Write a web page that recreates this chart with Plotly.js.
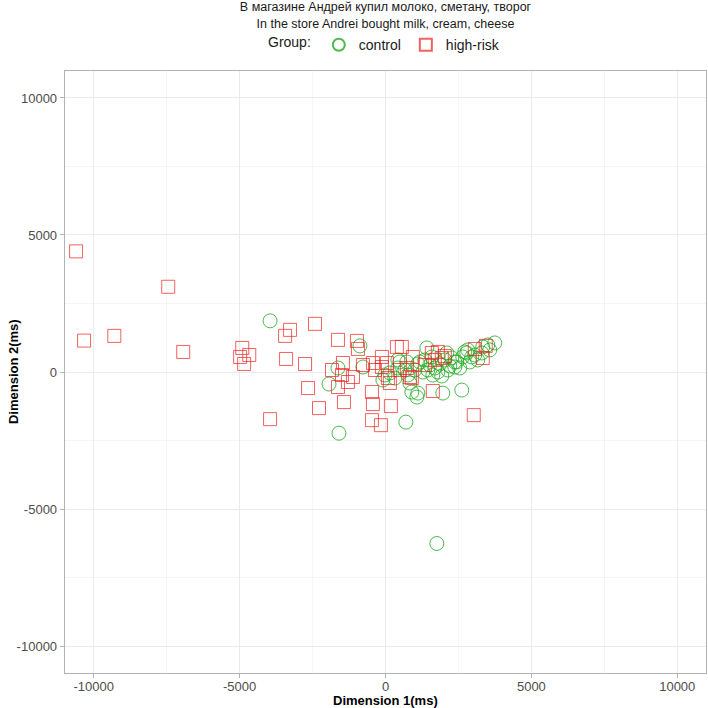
<!DOCTYPE html>
<html>
<head>
<meta charset="utf-8">
<script src="https://cdn.plot.ly/plotly-3.0.1.min.js"></script>
<style>html,body{margin:0;padding:0;background:#fff;}#chart{width:708px;height:708px;}</style>
</head>
<body>
<div id="chart"></div>
<script>
// high-risk group (red squares)
const highRiskX = [-10605,-10331,-9294,-7447,-6933,-4910,-4670,-4982,-4845,-3442,-3271,-2416,-3408,-2758,-2655,-2279,-3956,
  -1629,-979,-944,390,-123,48,-1834,-1458,-1492,-1287,-773,-431,-363,-1116,-1629,-465,-1424,-431,185,-465,-157,
  -123,82,150,561,938,732,835,1690,1930,1793,3059,3436,3333,1622,3025,493,903,1348,2033,1588];
const highRiskY = [4403,1146,1318,3111,732,878,622,549,293,1318,1537,1757,476,293,-586,-1318,-1720,
  1171,1135,842,915,549,329,73,329,-110,-366,256,329,73,-183,-549,-732,-1098,-1171,-1244,-1757,-1940,
  183,-220,-403,915,549,146,-183,439,512,732,842,952,512,-695,-1574,73,-220,256,585,695];
// control group (green circles)
const controlX = [-3956,-876,-1629,-1937,-1595,-773,493,732,-20,-89,150,767,835,698,1759,1417,2101,2717,3299,3504,3744,3333,
  2649,2957,2443,2546,3162,903,1109,1075,1964,2614,1177,1348,1519,1690,1862,2033,2204,2375,1451,1793,2136,2272,1588,
  1006,1109,1280,1622,1930,2888,2820,3059,3573,664,424,322,2785,2375,424];
const controlY = [1867,952,146,-439,-2233,183,366,366,-110,-293,-37,-110,-403,-1830,-6259,878,695,732,695,988,1061,915,
  549,549,366,146,439,-732,-769,-915,-769,-659,366,439,256,146,293,439,220,366,73,0,73,512,549,
  73,293,0,-110,-146,366,805,622,805,73,146,-220,695,183,439];
const groupNames = ["control", "high-risk"];
const tickVals = [-10000, -5000, 0, 5000, 10000];
const tickText = ["-10000", "-5000", "0", "5000", "10000"];

const FONT = "Liberation Sans, Arial, Helvetica, sans-serif";

const traces = [
  {x: controlX, y: controlY, name: groupNames[0], type: "scatter", mode: "markers",
   marker: {symbol: "circle-open", size: 14, color: "rgba(30,170,30,0.8)", line: {width: 1}}},
  {x: highRiskX, y: highRiskY, name: groupNames[1], type: "scatter", mode: "markers",
   marker: {symbol: "square-open", size: 13, color: "rgba(240,30,30,0.7)", line: {width: 1}}}
];

const axisCommon = {
  range: [-10985, 10985], tickvals: tickVals, ticktext: tickText,
  showgrid: true, gridcolor: "#ebebeb", gridwidth: 1,
  minor: {dtick: 2500, showgrid: true, gridcolor: "#f5f5f5", gridwidth: 1, ticks: ""},
  zeroline: false, showline: true, mirror: true, linecolor: "#b3b3b3", linewidth: 1.3,
  ticks: "outside", ticklen: 4, tickcolor: "#b3b3b3", tickwidth: 1,
  tickfont: {family: FONT, size: 13, color: "#4d4d4d"}, automargin: false
};

const layout = {
  width: 708, height: 708,
  margin: {l: 65, r: 2, t: 71, b: 35},
  paper_bgcolor: "#fff", plot_bgcolor: "#fff",
  font: {family: FONT, color: "#000"},
  title: {text: "В магазине Андрей купил молоко, сметану, творог<br>In the store Andrei bought milk, cream, cheese",
    font: {family: FONT, size: 12.5, color: "#1a1a1a"}, x: 0.5445, xanchor: "center", yref: "container", y: 0.984, yanchor: "top"},
  xaxis: Object.assign({}, axisCommon, {ticklabelstandoff: -3}),
  yaxis: Object.assign({}, axisCommon, {}),
  annotations: [
    {text: "<b>Dimension 1(ms)</b>", xref: "paper", yref: "paper", x: 0.5, y: -0.045, xanchor: "center", yanchor: "middle",
     showarrow: false, font: {family: FONT, size: 13, color: "#000"}},
    {text: "<b>Dimension 2(ms)</b>", xref: "paper", yref: "paper", x: -0.081, y: 0.5, xanchor: "center", yanchor: "middle",
     textangle: -90, showarrow: false, font: {family: FONT, size: 13, color: "#000"}}
  ],
  showlegend: true,
  legend: {orientation: "h", x: 0.5, xanchor: "center", y: 1.043, yanchor: "middle",
    title: {text: "Group:", font: {family: FONT, size: 14, color: "#1a1a1a"}, side: "left"},
    font: {family: FONT, size: 14, color: "#1a1a1a"}, itemsizing: "constant", itemwidth: 30,
    bgcolor: "rgba(0,0,0,0)"}
};

Plotly.newPlot("chart", traces, layout, {displayModeBar: false, staticPlot: true});
</script>
</body>
</html>
